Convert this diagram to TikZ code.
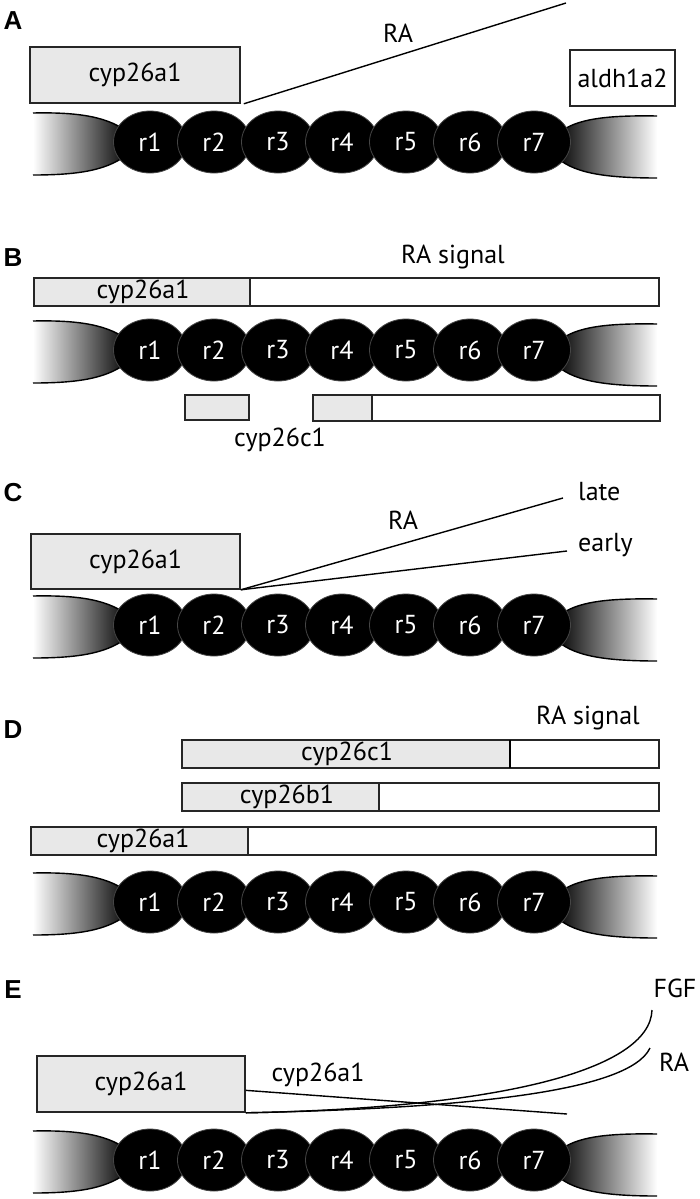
\documentclass[tikz,border=0pt]{standalone}
\usepackage{fontspec}
\setmainfont{PT Sans}
\newfontfamily\panelfont{Liberation Sans}
\usetikzlibrary{shapes.geometric,calc}

\definecolor{boxgray}{RGB}{232,232,232}
\definecolor{rimgray}{RGB}{70,70,70}

\tikzset{
  rhombo/.style={ellipse,fill=black,draw=rimgray,line width=0.8,
    minimum width=73,minimum height=62,inner sep=0,text=white},
  genebox/.style={draw=black!85,line width=1.6,fill=boxgray,inner sep=0},
  bar/.style={draw=black!85,line width=1.5},
  tag/.style={inner sep=0},
  panel/.style={font=\panelfont\bfseries\fontsize{26}{26}\selectfont,inner sep=0},
  signal/.style={line width=1.4}
}

% hindbrain: #1 = y of the axis, #2 = prefix of the node names
\newcommand{\hindbrain}[2]{%
  % anterior tail
  \shade[left color=white,right color=black]
    (33,#1-29) .. controls (80,#1-30) and (110,#1-25) .. (130,#1-8)
    -- (130,#1+10) .. controls (110,#1+28) and (80,#1+33) .. (33,#1+33) -- cycle;
  \draw[line width=1.4] (33,#1-29) .. controls (80,#1-30) and (110,#1-25) .. (130,#1-8);
  \draw[line width=1.4] (130,#1+10) .. controls (110,#1+28) and (80,#1+33) .. (33,#1+33);
  % posterior tail
  \shade[left color=black,right color=white]
    (657,#1-26) .. controls (600,#1-27) and (572,#1-22) .. (555,#1-6)
    -- (555,#1+14) .. controls (572,#1+30) and (600,#1+36) .. (657,#1+36) -- cycle;
  \draw[line width=1.4] (657,#1-26) .. controls (600,#1-27) and (572,#1-22) .. (555,#1-6);
  \draw[line width=1.4] (555,#1+14) .. controls (572,#1+30) and (600,#1+36) .. (657,#1+36);
  % rhombomeres
  \foreach \i in {1,...,7}
    \node[rhombo] (#2r\i) at ({86+64*\i},#1) {r\i};
}

\begin{document}
\begin{tikzpicture}[x=1pt,y=-1pt,font=\fontsize{26}{29}\selectfont]
  \useasboundingbox (0,0) rectangle (700,1199);

  % A
  \node[panel] (pA) at (13,21) {A};
  \node[genebox,minimum width=210,minimum height=56] (cypA) at (135,75) {cyp26a1};
  \node[genebox,fill=white,minimum width=105,minimum height=56] (aldhA) at (622.5,78) {aldh1a2};
  \coordinate (raA) at (566,3);
  \draw[signal] ([xshift=3]cypA.south east) -- (raA);
  \node[tag] (raAlbl) at (398,33) {RA};
  \hindbrain{142}{a}

  % B
  \node[panel] (pB) at (13,258) {B};
  \node[tag] (sigB) at (453,257) {RA signal};
  \draw[bar,fill=boxgray] (34,278) rectangle (250,306);
  \draw[bar] (250,278) rectangle (659,306);
  \node[tag] (cypB) at (143,292) {cyp26a1};
  \hindbrain{350}{b}
  \draw[bar,fill=boxgray] (185,395) rectangle (249,420);
  \draw[bar,fill=boxgray] (313,395) rectangle (372,421);
  \draw[bar] (372,395) rectangle (660,421);
  \node[tag] (cypcB) at (280,440) {cyp26c1};

  % C
  \node[panel] (pC) at (13,493) {C};
  \node[genebox,minimum width=209,minimum height=55] (cypC) at (135.5,561.5) {cyp26a1};
  \coordinate (lateC) at (563,498);
  \coordinate (earlyC) at (567,551);
  \draw[signal] (cypC.south east) -- (lateC);
  \draw[signal] (cypC.south east) -- (earlyC);
  \node[tag,anchor=west] (lateClbl) at (578,492) {late};
  \node[tag,anchor=west] (earlyClbl) at (578,545) {early};
  \node[tag] (raClbl) at (403,520) {RA};
  \hindbrain{625}{c}

  % D
  \node[panel] (pD) at (13,730) {D};
  \node[tag] (sigD) at (588,718) {RA signal};
  \draw[bar,fill=boxgray] (182,740) rectangle (510,768);
  \draw[bar] (510,740) rectangle (659,768);
  \draw[line width=2.6] (510,740) -- (510,768);
  \node[tag] (cypcD) at (347,754) {cyp26c1};
  \draw[bar,fill=boxgray] (182,783) rectangle (379,811);
  \draw[bar] (379,783) rectangle (659,811);
  \node[tag] (cypbD) at (287,797) {cyp26b1};
  \draw[bar,fill=boxgray] (31,827) rectangle (248,855);
  \draw[bar] (248,827) rectangle (656,855);
  \node[tag] (cypaD) at (143,841) {cyp26a1};
  \hindbrain{902}{d}

  % E
  \node[panel] (pE) at (13,990) {E};
  \node[genebox,minimum width=208,minimum height=56] (cypE) at (141,1084) {cyp26a1};
  \coordinate (cypEend) at (567,1114);
  \coordinate (fgfE) at (652,1010);
  \coordinate (raE) at (650,1048);
  \draw[signal] ($(cypE.north east)!0.61!(cypE.south east)$) -- (cypEend);
  \draw[signal] (cypE.south east) .. controls (500,1108) and (650,1070) .. (fgfE);
  \draw[signal] (cypE.south east) .. controls (480,1108) and (630,1090) .. (raE);
  \node[tag] (cypElbl) at (318,1075) {cyp26a1};
  \node[tag] (fgfElbl) at (675,988) {FGF};
  \node[tag] (raElbl) at (674,1062) {RA};
  \hindbrain{1160}{e}
\end{tikzpicture}
\end{document}
